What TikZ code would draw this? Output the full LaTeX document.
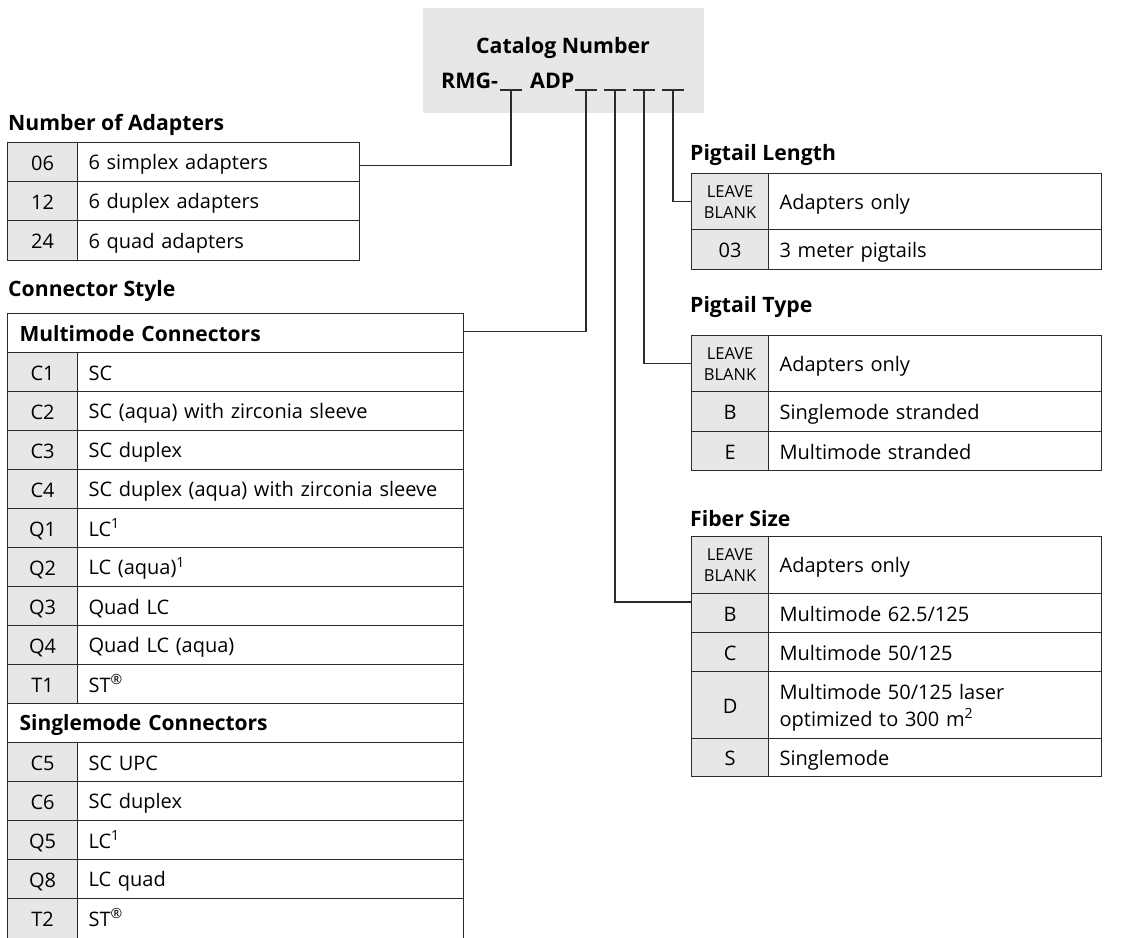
\documentclass[tikz,border=0pt]{standalone}
\usepackage{fontspec}
\setmainfont{Open Sans}
\definecolor{linec}{HTML}{2B2B2B}
\definecolor{cellgray}{HTML}{E6E7E8}
\definecolor{boxgray}{HTML}{E6E7E8}
\newcommand{\mys}{\rule[-4pt]{0pt}{24pt}}
\tikzset{
  every node/.style={font=\fontsize{20}{27}\selectfont, text=black},
  cell/.style={draw=linec, line width=1.2pt, inner sep=0pt, anchor=north west},
  codeL/.style={cell, fill=cellgray, minimum width=70pt, align=center},
  codeR/.style={cell, fill=cellgray, minimum width=77pt, align=center},
  descL/.style={cell, fill=white, inner xsep=11pt, text width=260pt, minimum width=282pt, align=left},
  descC/.style={cell, fill=white, inner xsep=11pt, text width=364pt, minimum width=386pt, align=left},
  descR/.style={cell, fill=white, inner xsep=11pt, text width=311pt, minimum width=333pt, align=left},
  hdr/.style={cell, fill=white, inner xsep=12pt, text width=432pt, minimum width=456pt, align=left, font=\fontsize{21}{27}\selectfont\bfseries},
  ttl/.style={anchor=base west, inner sep=0pt, font=\fontsize{21.2}{27}\selectfont\bfseries},
  leave/.style={font=\fontsize{16.5}{21}\selectfont},
  conn/.style={draw=linec, line width=1.2pt},
}
\begin{document}
\begin{tikzpicture}[x=1pt,y=-1pt]
\useasboundingbox (0,0) rectangle (1123,937);

% catalog box
\node[fill=boxgray, inner sep=0pt, minimum width=281pt, minimum height=105pt, anchor=north west] (cat) at (423,8) {};
\node[anchor=base, inner sep=0pt, font=\fontsize{21.3}{27}\selectfont\bfseries] (catt) at (563,53) {Catalog Number};
\node[anchor=base west, inner sep=0pt, font=\fontsize{21.5}{27}\selectfont\bfseries] (rmg) at (441,88) {RMG-};
\node[anchor=base west, inner sep=0pt, font=\fontsize{21.5}{27}\selectfont\bfseries] (adp) at (530,88) {ADP};
\coordinate (u1) at (511,90);
\coordinate (u2) at (586,90);
\coordinate (u3) at (615,90);
\coordinate (u4) at (644,90);
\coordinate (u5) at (673,90);
\foreach \u in {u1,u2,u3,u4,u5}{
  \draw[conn] ([xshift=-11pt]\u) -- ([xshift=11pt]\u);
}

% Number of Adapters
\node[ttl] (tna) at (8,130) {Number of Adapters};
\node[codeL, minimum height=39pt] (na1c) at (7,142) {\mys 06};
\node[descL, minimum height=39pt] (na1d) at (77,142) {\mys 6 simplex adapters};
\node[codeL, minimum height=39pt] (na2c) at (7,181) {\mys 12};
\node[descL, minimum height=39pt] (na2d) at (77,181) {\mys 6 duplex adapters};
\node[codeL, minimum height=40pt] (na3c) at (7,220) {\mys 24};
\node[descL, minimum height=40pt] (na3d) at (77,220) {\mys 6 quad adapters};

% Connector Style
\node[ttl] (tcs) at (8,296) {Connector Style};
\node[hdr, minimum height=39pt] (mmh) at (7,313) {\mys Multimode Connectors};
\node[codeL, minimum height=39pt] (r1c) at (7,352) {\mys C1};
\node[descC, minimum height=39pt] (r1d) at (77,352) {\mys SC};
\node[codeL, minimum height=39pt] (r2c) at (7,391) {\mys C2};
\node[descC, minimum height=39pt] (r2d) at (77,391) {\mys SC (aqua) with zirconia sleeve};
\node[codeL, minimum height=39pt] (r3c) at (7,430) {\mys C3};
\node[descC, minimum height=39pt] (r3d) at (77,430) {\mys SC duplex};
\node[codeL, minimum height=39pt] (r4c) at (7,469) {\mys C4};
\node[descC, minimum height=39pt] (r4d) at (77,469) {\mys SC duplex (aqua) with zirconia sleeve};
\node[codeL, minimum height=39pt] (r5c) at (7,508) {\mys Q1};
\node[descC, minimum height=39pt] (r5d) at (77,508) {\mys LC\textsuperscript{1}};
\node[codeL, minimum height=39pt] (r6c) at (7,547) {\mys Q2};
\node[descC, minimum height=39pt] (r6d) at (77,547) {\mys LC (aqua)\textsuperscript{1}};
\node[codeL, minimum height=39pt] (r7c) at (7,586) {\mys Q3};
\node[descC, minimum height=39pt] (r7d) at (77,586) {\mys Quad LC};
\node[codeL, minimum height=39pt] (r8c) at (7,625) {\mys Q4};
\node[descC, minimum height=39pt] (r8d) at (77,625) {\mys Quad LC (aqua)};
\node[codeL, minimum height=39pt] (r9c) at (7,664) {\mys T1};
\node[descC, minimum height=39pt] (r9d) at (77,664) {\mys ST\textsuperscript{®}};
\node[hdr, minimum height=39pt] (smh) at (7,703) {\mys Singlemode Connectors};
\node[codeL, minimum height=39pt] (s1c) at (7,742) {\mys C5};
\node[descC, minimum height=39pt] (s1d) at (77,742) {\mys SC UPC};
\node[codeL, minimum height=39pt] (s2c) at (7,781) {\mys C6};
\node[descC, minimum height=39pt] (s2d) at (77,781) {\mys SC duplex};
\node[codeL, minimum height=39pt] (s3c) at (7,820) {\mys Q5};
\node[descC, minimum height=39pt] (s3d) at (77,820) {\mys LC\textsuperscript{1}};
\node[codeL, minimum height=39pt] (s4c) at (7,859) {\mys Q8};
\node[descC, minimum height=39pt] (s4d) at (77,859) {\mys LC quad};
\node[codeL, minimum height=40pt] (s5c) at (7,898) {\raisebox{-0.5pt}{\mys}T2};
\node[descC, minimum height=40pt] (s5d) at (77,898) {\raisebox{-0.5pt}{\mys}ST\textsuperscript{®}};

% Pigtail Length
\node[ttl] (tpl) at (690,160) {Pigtail Length};
\node[codeR, minimum height=56pt, leave] (pl1c) at (691,173) {LEAVE\\BLANK};
\node[descR, minimum height=56pt] (pl1d) at (768,173) {\mys Adapters only};
\node[codeR, minimum height=40pt] (pl2c) at (691,229) {\mys 03};
\node[descR, minimum height=40pt] (pl2d) at (768,229) {\mys 3 meter pigtails};

% Pigtail Type
\node[ttl] (tpt) at (690,312) {Pigtail Type};
\node[codeR, minimum height=56pt, leave] (pt1c) at (691,335) {LEAVE\\BLANK};
\node[descR, minimum height=56pt] (pt1d) at (768,335) {\mys Adapters only};
\node[codeR, minimum height=40pt] (pt2c) at (691,391) {\mys B};
\node[descR, minimum height=40pt] (pt2d) at (768,391) {\mys Singlemode stranded};
\node[codeR, minimum height=39pt] (pt3c) at (691,431) {\mys E};
\node[descR, minimum height=39pt] (pt3d) at (768,431) {\mys Multimode stranded};

% Fiber Size
\node[ttl] (tfs) at (690,526) {Fiber Size};
\node[codeR, minimum height=57pt, leave] (fs1c) at (691,536) {LEAVE\\BLANK};
\node[descR, minimum height=57pt] (fs1d) at (768,536) {\mys Adapters only};
\node[codeR, minimum height=39pt] (fs2c) at (691,593) {\mys B};
\node[descR, minimum height=39pt] (fs2d) at (768,593) {\mys Multimode 62.5/125};
\node[codeR, minimum height=39pt] (fs3c) at (691,632) {\mys C};
\node[descR, minimum height=39pt] (fs3d) at (768,632) {\mys Multimode 50/125};
\node[codeR, minimum height=67pt] (fs4c) at (691,671) {\mys D};
\node[descR, minimum height=67pt] (fs4d) at (768,671) {\mys Multimode 50/125 laser\\optimized to 300 m\textsuperscript{2}\rule[-1pt]{0pt}{1pt}};
\node[codeR, minimum height=38pt] (fs5c) at (691,738) {\mys S};
\node[descR, minimum height=38pt] (fs5d) at (768,738) {\mys Singlemode};

% connectors
\draw[conn] (u1) |- ([yshift=-3pt]na1d.east);
\draw[conn] (u2) |- ([yshift=2pt]mmh.east);
\draw[conn] (u3) |- ([yshift=-9pt]fs2c.north west);
\draw[conn] (u4) |- (pt1c.west);
\draw[conn] (u5) |- (pl1c.west);
\end{tikzpicture}
\end{document}
